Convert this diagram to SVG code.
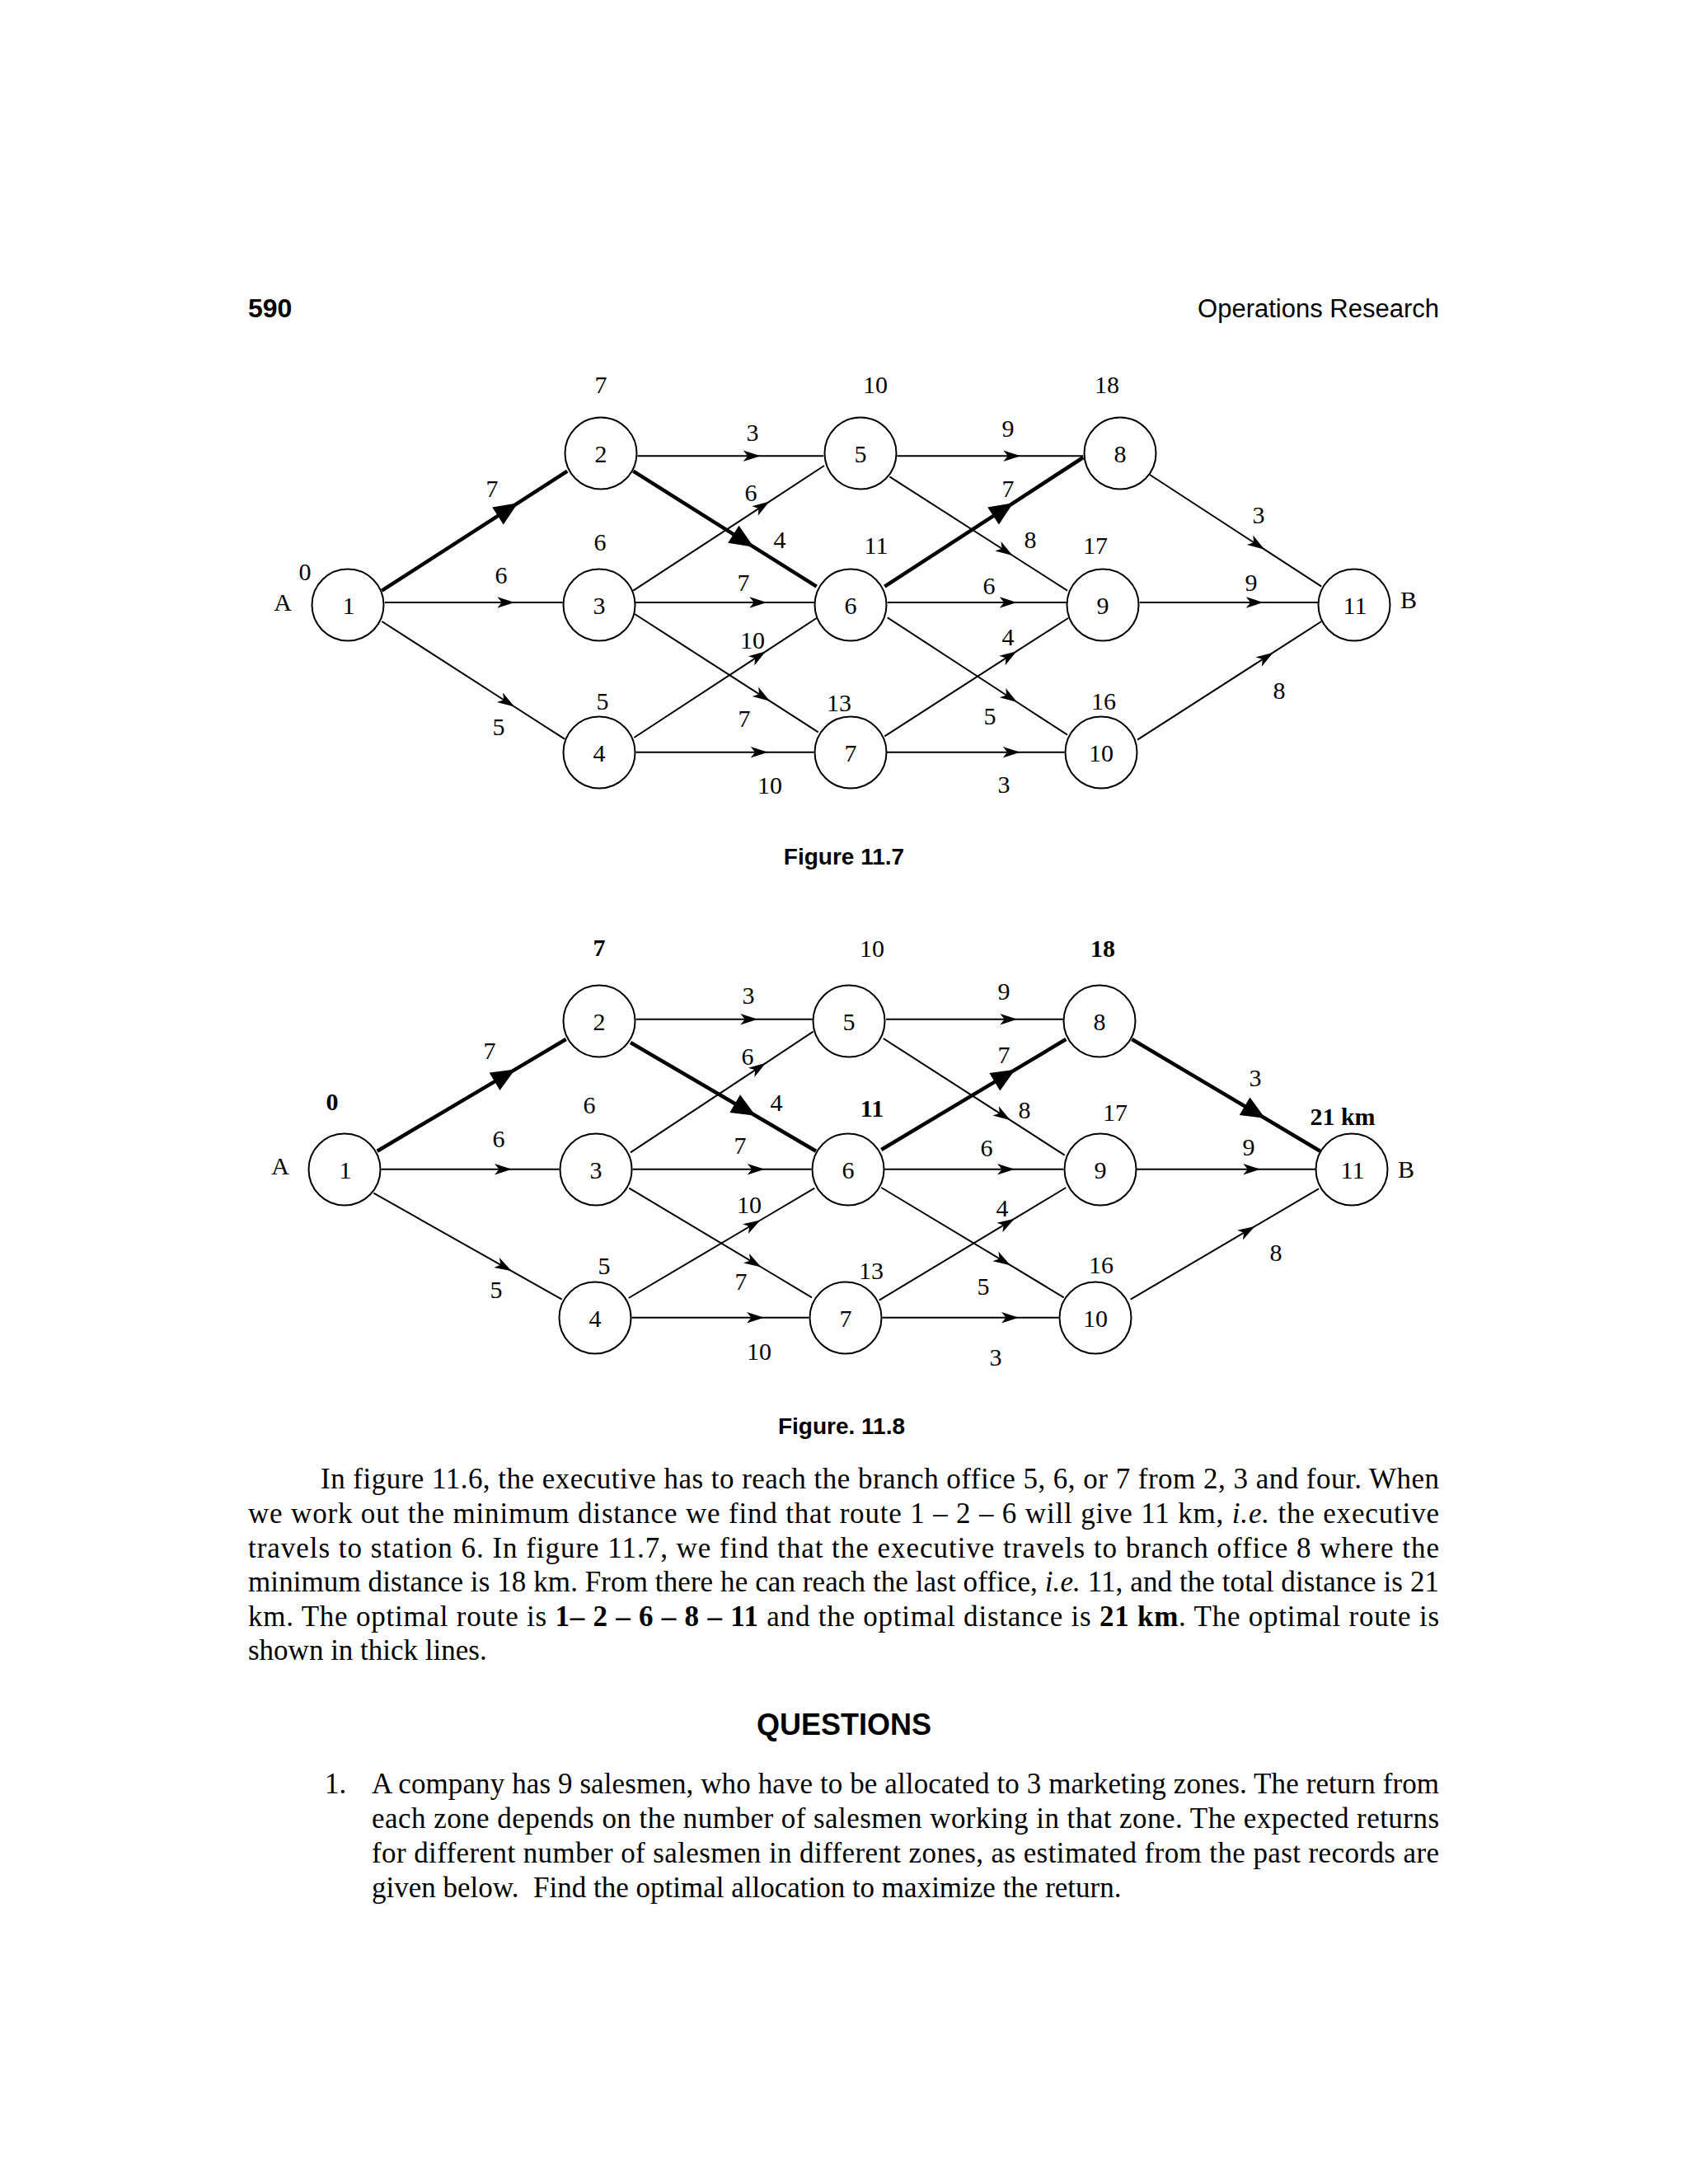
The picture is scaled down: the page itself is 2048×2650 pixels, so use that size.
<svg xmlns="http://www.w3.org/2000/svg" width="2048" height="2650" viewBox="0 0 2048 2650">
<defs>
<marker id="a" markerUnits="userSpaceOnUse" markerWidth="24" markerHeight="16" viewBox="-22 -8 24 16" refX="0" refY="0" orient="auto" overflow="visible"><path d="M1,0 L-20,-6.8 L-14.5,0 L-20,6.8 Z" fill="#000"/></marker>
<marker id="b" markerUnits="userSpaceOnUse" markerWidth="32" markerHeight="28" viewBox="-30 -14 32 28" refX="0" refY="0" orient="auto" overflow="visible"><path d="M2,0 L-27,-12.5 L-27,12.5 Z" fill="#000"/></marker>
<style>
.n circle{fill:#fff;stroke:#000;stroke-width:2}
.s{font-family:"Liberation Serif","Times New Roman",serif;font-size:30px;text-anchor:middle;fill:#000}
.bd{font-weight:bold}
.e{fill:none;stroke:#000;stroke-width:2;marker-mid:url(#a)}
.t{fill:none;stroke:#000;stroke-width:4.5;marker-mid:url(#b)}
.h{font-family:"Liberation Sans",Arial,sans-serif;fill:#000}
.p{font-family:"Liberation Serif","Times New Roman",serif;font-size:35px;fill:#000}
</style>
</defs>
<rect width="2048" height="2650" fill="#fff"/>

<!-- header -->
<text class="h" x="301" y="385" font-size="32" font-weight="bold">590</text>
<text class="h" x="1746" y="385" font-size="31" text-anchor="end">Operations Research</text>

<!-- ===== Figure 11.7 ===== -->
<g id="fig117-connectors">
<path class="t" d="M463.3 716.7 L626.7 611.4 L688.3 571.7"/>
<path class="e" d="M466.7 731 L623.3 731 L682.7 731"/>
<path class="e" d="M463.3 754 L623.3 857 L685 896.7"/>
<path class="e" d="M773.5 553.3 L921.7 553.3 L999.3 553.3"/>
<path class="t" d="M768.3 571.7 L912.7 662.6 L990.7 711.7"/>
<path class="e" d="M768.3 716.7 L932.7 609.1 L1000 565"/>
<path class="e" d="M771 731 L929.3 731 L988 731"/>
<path class="e" d="M770 745 L933.3 850.1 L992.7 888.3"/>
<path class="e" d="M769.3 895 L928.3 790.9 L990.7 750"/>
<path class="e" d="M771.5 912.7 L930.7 912.7 L987.5 912.7"/>
<path class="e" d="M1088.3 553.3 L1237.3 553.3 L1314.3 553.3"/>
<path class="e" d="M1079.3 578.3 L1227.7 673.5 L1295 716.7"/>
<path class="t" d="M1073.3 711.7 L1227.7 611.3 L1314.3 555"/>
<path class="e" d="M1076.7 731 L1232.7 731 L1293.8 731"/>
<path class="e" d="M1076.7 749.3 L1233.3 851.5 L1295 891.7"/>
<path class="e" d="M1073.3 893.3 L1232.7 790.7 L1296 750"/>
<path class="e" d="M1076 912.7 L1236.7 912.7 L1291.7 912.7"/>
<path class="e" d="M1395 576 L1533.3 666.1 L1603.3 711.7"/>
<path class="e" d="M1382.7 731 L1531.7 731 L1599.3 731"/>
<path class="e" d="M1380 897.7 L1544 792.2 L1603.3 754"/>
</g>
<g id="fig117-edge-labels" class="s">
<text x="597" y="603">7</text>
<text x="608" y="708">6</text>
<text x="605" y="892">5</text>
<text x="913" y="535">3</text>
<text x="911" y="608">6</text>
<text x="946" y="665">4</text>
<text x="902" y="717">7</text>
<text x="913" y="787">10</text>
<text x="903" y="882">7</text>
<text x="934" y="963">10</text>
<text x="1223" y="530">9</text>
<text x="1223" y="603">7</text>
<text x="1250" y="665">8</text>
<text x="1200" y="721">6</text>
<text x="1223" y="783">4</text>
<text x="1201" y="879">5</text>
<text x="1218" y="962">3</text>
<text x="1527" y="635">3</text>
<text x="1518" y="717">9</text>
<text x="1552" y="848">8</text>
</g>
<g id="fig117-n1" class="n"><circle cx="422" cy="734" r="43.5"/><text class="s" x="423" y="745">1</text><text class="s" x="370" y="704">0</text><text class="s" x="343" y="741">A</text></g>
<g id="fig117-n2" class="n"><circle cx="729" cy="550" r="43.5"/><text class="s" x="729" y="561">2</text><text class="s" x="729" y="477">7</text></g>
<g id="fig117-n3" class="n"><circle cx="727" cy="734" r="43.5"/><text class="s" x="727" y="745">3</text><text class="s" x="728" y="668">6</text></g>
<g id="fig117-n4" class="n"><circle cx="727" cy="913" r="43.5"/><text class="s" x="727" y="924">4</text><text class="s" x="731" y="861">5</text></g>
<g id="fig117-n5" class="n"><circle cx="1044" cy="550" r="43.5"/><text class="s" x="1044" y="561">5</text><text class="s" x="1062" y="477">10</text></g>
<g id="fig117-n6" class="n"><circle cx="1032" cy="734" r="43.5"/><text class="s" x="1032" y="745">6</text><text class="s" x="1063" y="672">11</text></g>
<g id="fig117-n7" class="n"><circle cx="1032" cy="913" r="43.5"/><text class="s" x="1032" y="924">7</text><text class="s" x="1018" y="863">13</text></g>
<g id="fig117-n8" class="n"><circle cx="1359" cy="550" r="43.5"/><text class="s" x="1359" y="561">8</text><text class="s" x="1343" y="477">18</text></g>
<g id="fig117-n9" class="n"><circle cx="1338" cy="734" r="43.5"/><text class="s" x="1338" y="745">9</text><text class="s" x="1329" y="672">17</text></g>
<g id="fig117-n10" class="n"><circle cx="1336" cy="913" r="43.5"/><text class="s" x="1336" y="924">10</text><text class="s" x="1339" y="861">16</text></g>
<g id="fig117-n11" class="n"><circle cx="1643" cy="734" r="43.5"/><text class="s" x="1644" y="745">11</text><text class="s" x="1709" y="738">B</text></g>
<text class="h" x="1024" y="1049" font-size="28" font-weight="bold" text-anchor="middle">Figure 11.7</text>

<!-- ===== Figure 11.8 ===== -->
<g id="fig118-connectors">
<path class="t" d="M457.7 1396.7 L623.3 1298.6 L686.7 1261"/>
<path class="e" d="M462.5 1418.7 L620 1418.7 L678.5 1418.7"/>
<path class="e" d="M453.3 1447.7 L620 1541.8 L681.7 1576.7"/>
<path class="e" d="M771.5 1236.7 L918.3 1236.7 L985.7 1236.7"/>
<path class="t" d="M765 1265 L915 1352.8 L990 1396.7"/>
<path class="e" d="M765 1398.3 L928.3 1290.3 L986.7 1251.7"/>
<path class="e" d="M767.5 1418.7 L926.7 1418.7 L984.5 1418.7"/>
<path class="e" d="M763.3 1441.7 L922.7 1537 L985 1574.3"/>
<path class="e" d="M762.7 1575 L921.7 1481 L988.3 1441.7"/>
<path class="e" d="M766.5 1598.7 L926 1598.7 L981.5 1598.7"/>
<path class="e" d="M1075 1236.7 L1233.3 1236.7 L1289.7 1236.7"/>
<path class="e" d="M1071.7 1260 L1225 1358.7 L1291.7 1401.7"/>
<path class="t" d="M1069.3 1395 L1230 1298.9 L1293.3 1261"/>
<path class="e" d="M1073.3 1418.7 L1230 1418.7 L1290.3 1418.7"/>
<path class="e" d="M1069.3 1441 L1225 1534.7 L1290.7 1574.3"/>
<path class="e" d="M1066.7 1577.7 L1230 1479.2 L1293.3 1441"/>
<path class="e" d="M1070.5 1598.7 L1235 1598.7 L1284.7 1598.7"/>
<path class="t" d="M1373.3 1261 L1533.3 1356 L1601.7 1396.7"/>
<path class="e" d="M1379 1418.7 L1528.3 1418.7 L1596 1418.7"/>
<path class="e" d="M1371.7 1576.7 L1521.7 1488.4 L1600 1442.3"/>
</g>
<g id="fig118-edge-labels" class="s">
<text x="594" y="1285">7</text>
<text x="605" y="1392">6</text>
<text x="602" y="1575">5</text>
<text x="908" y="1218">3</text>
<text x="907" y="1292">6</text>
<text x="942" y="1348">4</text>
<text x="898" y="1400">7</text>
<text x="909" y="1472">10</text>
<text x="899" y="1565">7</text>
<text x="921" y="1650">10</text>
<text x="1218" y="1213">9</text>
<text x="1218" y="1290">7</text>
<text x="1243" y="1357">8</text>
<text x="1197" y="1403">6</text>
<text x="1216" y="1476">4</text>
<text x="1193" y="1571">5</text>
<text x="1208" y="1657">3</text>
<text x="1523" y="1318">3</text>
<text x="1515" y="1402">9</text>
<text x="1548" y="1530">8</text>
</g>
<g id="fig118-n1" class="n"><circle cx="418" cy="1419" r="43.5"/><text class="s" x="419" y="1430">1</text><text class="s bd" x="403" y="1347">0</text><text class="s" x="340" y="1425">A</text></g>
<g id="fig118-n2" class="n"><circle cx="727" cy="1239" r="43.5"/><text class="s" x="727" y="1250">2</text><text class="s bd" x="727" y="1160">7</text></g>
<g id="fig118-n3" class="n"><circle cx="723" cy="1419" r="43.5"/><text class="s" x="723" y="1430">3</text><text class="s" x="715" y="1351">6</text></g>
<g id="fig118-n4" class="n"><circle cx="722" cy="1599" r="43.5"/><text class="s" x="722" y="1610">4</text><text class="s" x="733" y="1546">5</text></g>
<g id="fig118-n5" class="n"><circle cx="1030" cy="1239" r="43.5"/><text class="s" x="1030" y="1250">5</text><text class="s" x="1058" y="1161">10</text></g>
<g id="fig118-n6" class="n"><circle cx="1029" cy="1419" r="43.5"/><text class="s" x="1029" y="1430">6</text><text class="s bd" x="1058" y="1355">11</text></g>
<g id="fig118-n7" class="n"><circle cx="1026" cy="1599" r="43.5"/><text class="s" x="1026" y="1610">7</text><text class="s" x="1057" y="1552">13</text></g>
<g id="fig118-n8" class="n"><circle cx="1334" cy="1239" r="43.5"/><text class="s" x="1334" y="1250">8</text><text class="s bd" x="1338" y="1161">18</text></g>
<g id="fig118-n9" class="n"><circle cx="1335" cy="1419" r="43.5"/><text class="s" x="1335" y="1430">9</text><text class="s" x="1353" y="1360">17</text></g>
<g id="fig118-n10" class="n"><circle cx="1329" cy="1599" r="43.5"/><text class="s" x="1329" y="1610">10</text><text class="s" x="1336" y="1545">16</text></g>
<g id="fig118-n11" class="n"><circle cx="1640" cy="1419" r="43.5"/><text class="s" x="1641" y="1430">11</text><text class="s bd" x="1629" y="1365">21 km</text><text class="s" x="1706" y="1429">B</text></g>
<text class="h" x="1021" y="1740" font-size="28" font-weight="bold" text-anchor="middle">Figure. 11.8</text>

<!-- ===== Body text ===== -->
<g id="paragraph">
<text class="p" x="389" y="1806" textLength="1357" lengthAdjust="spacing">In figure 11.6, the executive has to reach the branch office 5, 6, or 7 from 2, 3 and four. When</text>
<text class="p" x="301" y="1848" textLength="1445" lengthAdjust="spacing">we work out the minimum distance we find that route 1 – 2 – 6 will give 11 km, <tspan font-style="italic">i.e.</tspan> the executive</text>
<text class="p" x="301" y="1889.5" textLength="1445" lengthAdjust="spacing">travels to station 6. In figure 11.7, we find that the executive travels to branch office 8 where the</text>
<text class="p" x="301" y="1931" textLength="1445" lengthAdjust="spacing">minimum distance is 18 km. From there he can reach the last office, <tspan font-style="italic">i.e.</tspan> 11, and the total distance is 21</text>
<text class="p" x="301" y="1973" textLength="1445" lengthAdjust="spacing">km. The optimal route is <tspan font-weight="bold">1– 2 – 6 – 8 – 11</tspan> and the optimal distance is <tspan font-weight="bold">21 km</tspan>. The optimal route is</text>
<text class="p" x="301" y="2014">shown in thick lines.</text>
</g>
<text class="h" x="1024" y="2105" font-size="36" font-weight="bold" text-anchor="middle">QUESTIONS</text>
<g id="question1">
<text class="p" x="394" y="2176">1.</text>
<text class="p" x="451" y="2176" textLength="1295" lengthAdjust="spacing">A company has 9 salesmen, who have to be allocated to 3 marketing zones. The return from</text>
<text class="p" x="451" y="2218" textLength="1295" lengthAdjust="spacing">each zone depends on the number of salesmen working in that zone. The expected returns</text>
<text class="p" x="451" y="2260" textLength="1295" lengthAdjust="spacing">for different number of salesmen in different zones, as estimated from the past records are</text>
<text class="p" x="451" y="2301.5">given below.&#160; Find the optimal allocation to maximize the return.</text>
</g>
</svg>
